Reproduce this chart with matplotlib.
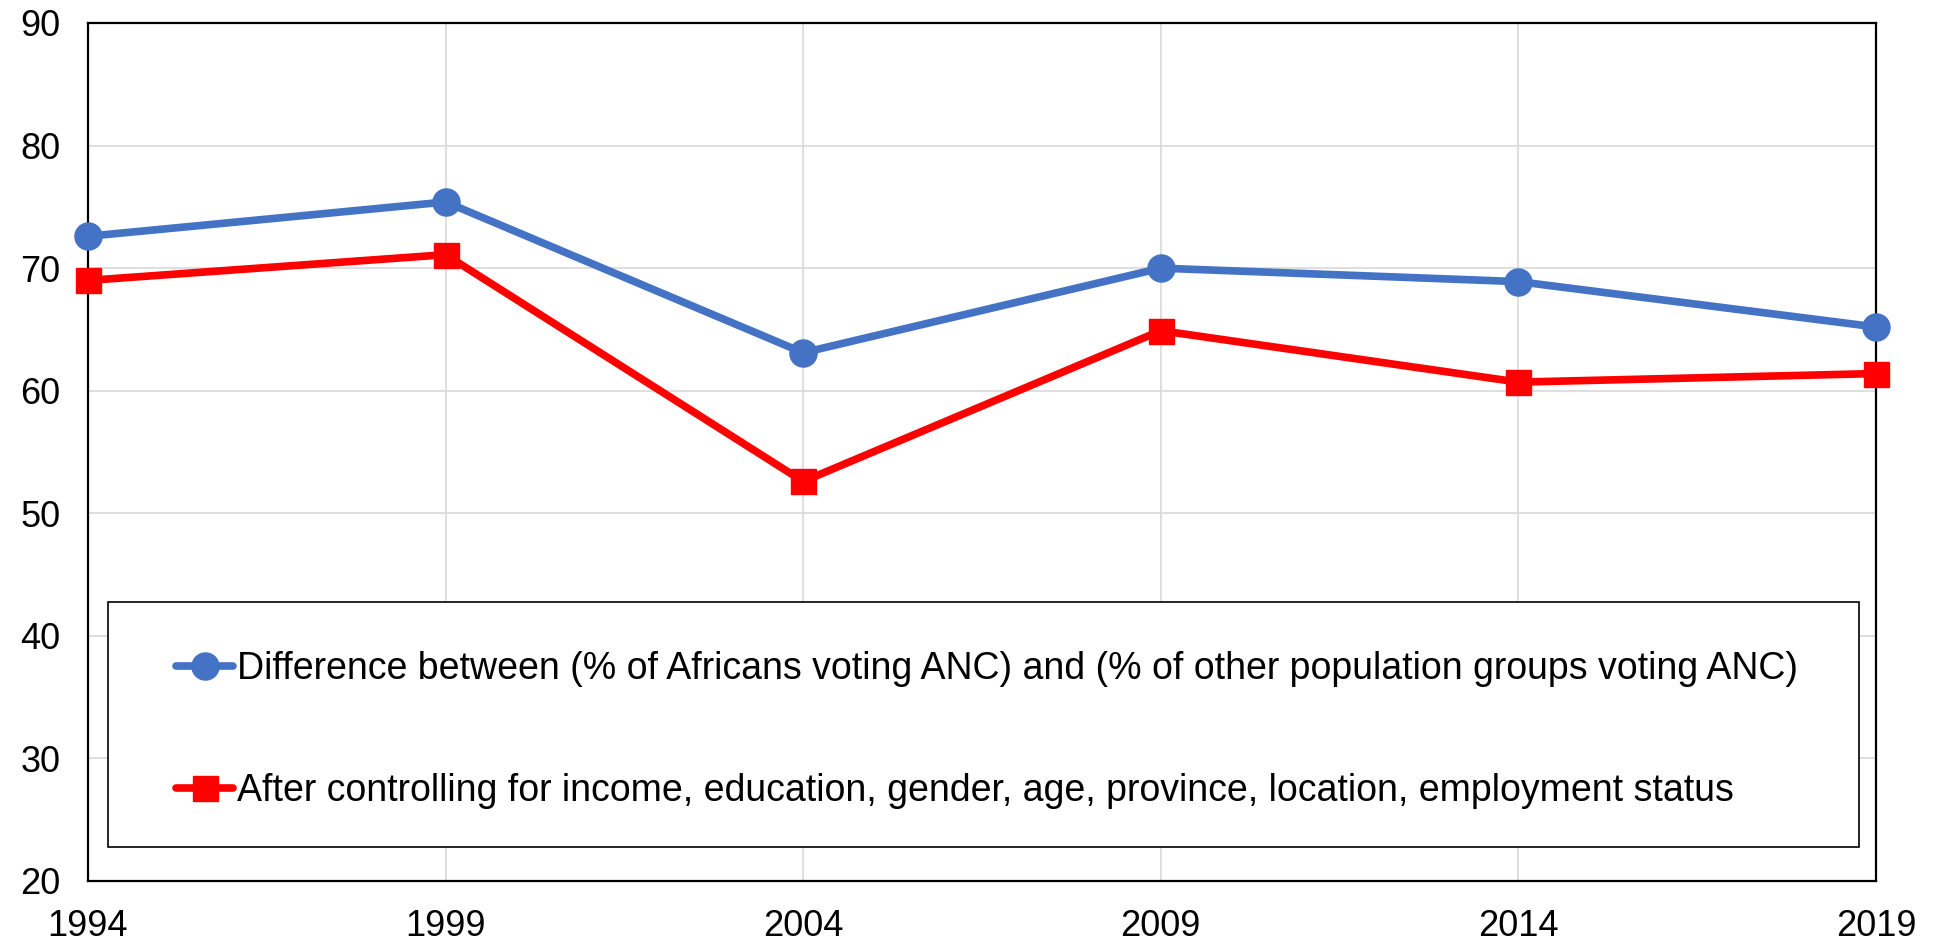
import matplotlib
matplotlib.use("Agg")
import matplotlib.pyplot as plt
from matplotlib.patches import Rectangle

plt.rcParams['font.family'] = ['Liberation Sans', 'DejaVu Sans']

years = [1994, 1999, 2004, 2009, 2014, 2019]
raw_diff = [72.6, 75.4, 63.1, 70.0, 68.9, 65.2]
controlled_diff = [69.0, 71.1, 52.6, 64.9, 60.7, 61.4]
label_raw = "Difference between (% of Africans voting ANC) and (% of other population groups voting ANC)"
label_ctrl = "After controlling for income, education, gender, age, province, location, employment status"
yticks = [20, 30, 40, 50, 60, 70, 80, 90]

W, H = 1939, 942
fig = plt.figure(figsize=(W / 100, H / 100), dpi=100)
ax = fig.add_axes([88 / W, (H - 881) / H, 1788 / W, 858 / H])

ax.plot(years, raw_diff, color='#4472C4', lw=5.5, marker='o', markersize=19.5,
        clip_on=False, zorder=3, solid_capstyle='round', label=label_raw)
ax.plot(years, controlled_diff, color='#FF0000', lw=5.5, marker='s', markersize=18,
        clip_on=False, zorder=3, solid_capstyle='round', label=label_ctrl)

ax.set_xlim(1994, 2019)
ax.set_ylim(20, 90)
ax.set_xticks(years)
ax.set_yticks(yticks)
ax.tick_params(axis='both', length=0, labelsize=26)
ax.tick_params(axis='y', pad=20)
ax.tick_params(axis='x', pad=20)
ax.grid(True, color='#d9d9d9', lw=1.2, zorder=0)
ax.set_axisbelow(True)
for s in ax.spines.values():
    s.set_color('black')
    s.set_linewidth(1.6)

# legend frame
x0 = (108 - 88) / 1788
x1 = (1859 - 88) / 1788
y0 = (881 - 847) / 858
y1 = (881 - 602) / 858
ax.add_patch(Rectangle((x0, y0), x1 - x0, y1 - y0, transform=ax.transAxes,
                       facecolor='white', edgecolor='black', lw=1.2, zorder=4))

leg = fig.legend(loc='upper left', bbox_to_anchor=(176 / W, 1 - 651 / H),
                 frameon=False, fontsize=27, borderpad=0, borderaxespad=0,
                 labelspacing=2.3, handlelength=1.52, handletextpad=0.11)
leg.set_zorder(5)

fig.savefig('out.png', dpi=100)
